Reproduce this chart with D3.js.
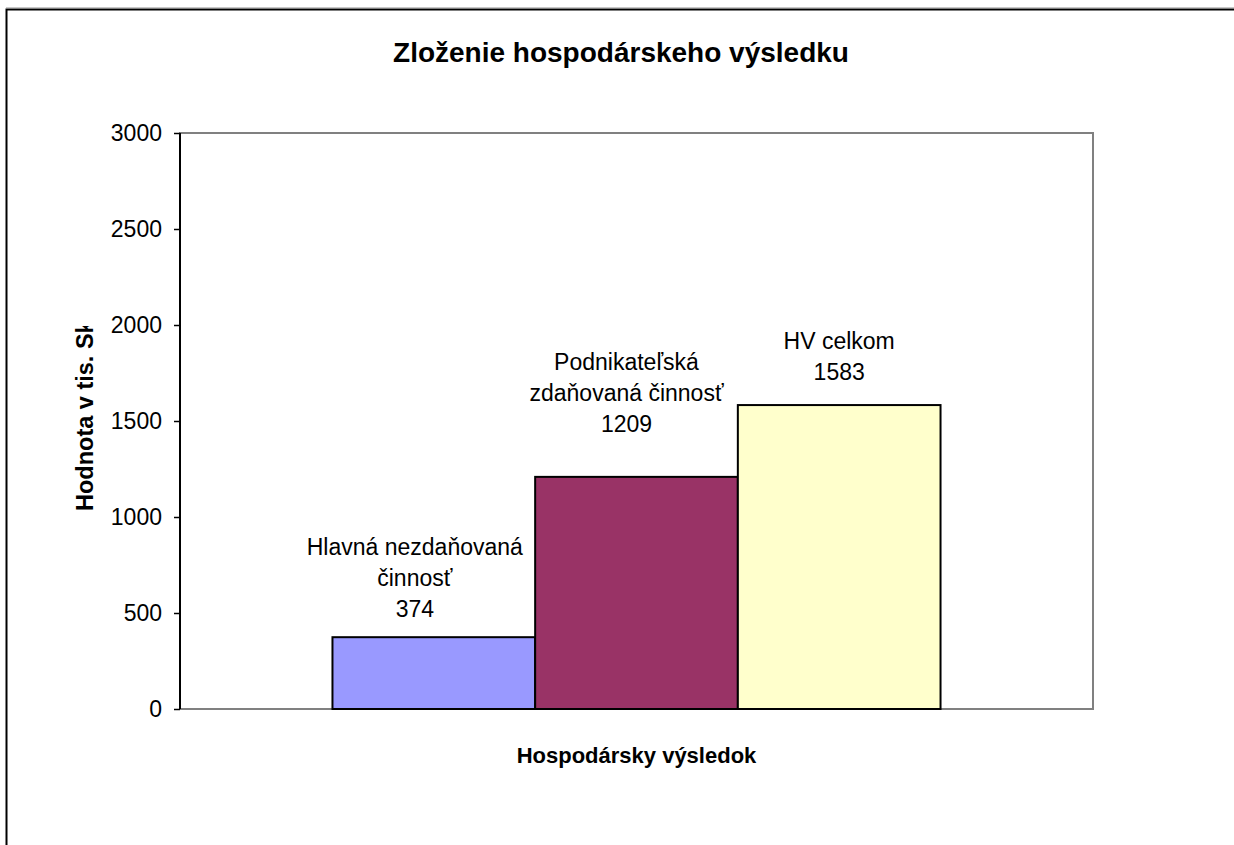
<!DOCTYPE html>
<html>
<head>
<meta charset="utf-8">
<script src="https://cdn.jsdelivr.net/npm/d3@7"></script>
<style>
  html, body { margin: 0; padding: 0; background: #fff; }
  svg { display: block; font-family: "Liberation Sans", Arial, sans-serif; }
</style>
</head>
<body>
<svg id="chart" width="1234" height="845"></svg>
<script>
// data
var categories = ["Hlavná nezdaňovaná činnosť", "Podnikateľská zdaňovaná činnosť", "HV celkom"];
var values = [374, 1209, 1583];
var labelLines = [
  ["Hlavná nezdaňovaná", "činnosť"],
  ["Podnikateľská", "zdaňovaná činnosť"],
  ["HV celkom"]
];
var colors = ["#9999FF", "#993366", "#FFFFCC"];
var yTicks = [0, 500, 1000, 1500, 2000, 2500, 3000];
var title = "Zloženie hospodárskeho výsledku";
var xTitle = "Hospodársky výsledok";
var yTitle = "Hodnota v tis. Sk";

var svg = d3.select("#chart");
var plot = {left: 180, right: 1093, top: 133, bottom: 709};
var plotW = plot.right - plot.left;

// outer chart border (only top and left are in frame)
svg.append("line")
  .attr("x1", 6).attr("x2", 1234).attr("y1", 7.5).attr("y2", 7.5)
  .attr("stroke", "#c8c8c8").attr("stroke-width", 1);
svg.append("path")
  .attr("d", "M6.5,845V9.5H1234")
  .attr("fill", "none").attr("stroke", "#000").attr("stroke-width", 2);

var groupW = plotW * 0.666;
var x = d3.scaleBand()
  .domain(categories)
  .range([plot.left + (plotW - groupW) / 2, plot.left + (plotW + groupW) / 2])
  .paddingInner(0).paddingOuter(0);

var y = d3.scaleLinear().domain([0, 3000]).range([plot.bottom, plot.top]);

// plot frame
svg.append("rect")
  .attr("x", plot.left).attr("y", plot.top)
  .attr("width", plotW).attr("height", plot.bottom - plot.top)
  .attr("fill", "#fff").attr("stroke", "#808080").attr("stroke-width", 2);

// bars
svg.selectAll(".bar")
  .data(values)
  .enter().append("rect")
  .attr("class", "bar")
  .attr("x", function(d, i) { return x(categories[i]); })
  .attr("y", function(d) { return y(d); })
  .attr("width", x.bandwidth())
  .attr("height", function(d) { return y(0) - y(d); })
  .attr("fill", function(d, i) { return colors[i]; })
  .attr("stroke", "#000").attr("stroke-width", 2);

// y axis
var yAxis = d3.axisLeft(y).tickValues(yTicks).tickSize(6).tickPadding(12).tickFormat(d3.format("d"));
var gy = svg.append("g").attr("transform", "translate(" + plot.left + ",0)").call(yAxis);
gy.select(".domain").attr("stroke", "#000").attr("stroke-width", 2).attr("d", "M0," + plot.top + "V" + plot.bottom);
gy.selectAll(".tick line").attr("stroke", "#000").attr("stroke-width", 1.5);
gy.selectAll(".tick text")
  .attr("font-family", "Liberation Sans, Arial, sans-serif")
  .attr("font-size", 23).attr("fill", "#000");

// value labels above the bars (Excel nudged the first two a little left)
var lineH = 31;
var lift = [20, 45, 25];
var shift = [-19, -10, 0];
values.forEach(function(v, i) {
  var lines = labelLines[i].concat([String(v)]);
  var cx = x(categories[i]) + x.bandwidth() / 2 + shift[i];
  var baseY = y(v) - lift[i];
  var t = svg.append("text")
    .attr("text-anchor", "middle")
    .attr("font-size", 23)
    .attr("fill", "#000");
  lines.forEach(function(s, k) {
    t.append("tspan")
      .attr("x", cx)
      .attr("y", baseY - (lines.length - 1 - k) * lineH)
      .text(s);
  });
});

// titles
svg.append("text")
  .attr("x", 621).attr("y", 62)
  .attr("text-anchor", "middle")
  .attr("font-size", 28).attr("font-weight", "bold")
  .text(title);

svg.append("text")
  .attr("x", (plot.left + plot.right) / 2).attr("y", 763)
  .attr("text-anchor", "middle")
  .attr("font-size", 22).attr("font-weight", "bold")
  .text(xTitle);

// y title is cut off at the top in the original
svg.append("clipPath").attr("id", "yclip")
  .append("rect").attr("x", 0).attr("y", 326).attr("width", 170).attr("height", 400);
svg.append("g")
  .attr("clip-path", "url(#yclip)")
  .append("text")
  .attr("transform", "translate(93,511) rotate(-90)")
  .attr("text-anchor", "start")
  .attr("font-size", 23.5).attr("font-weight", "bold")
  .text(yTitle);
</script>
</body>
</html>
